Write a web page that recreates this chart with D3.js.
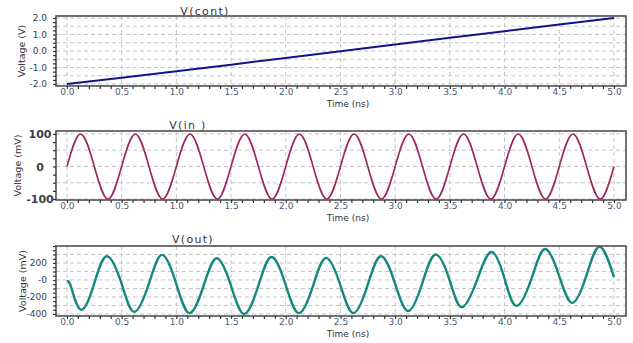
<!DOCTYPE html>
<html><head><meta charset="utf-8">
<script src="https://cdn.jsdelivr.net/npm/d3@7"></script>
<style>
html,body{margin:0;padding:0;background:#fff;}
svg{display:block;font-family:"DejaVu Sans",sans-serif;}
</style></head>
<body><svg id="c" width="633" height="343"></svg>
<script>
// ---------- data ----------
const timeTicks = [0,0.5,1,1.5,2,2.5,3,3.5,4,4.5,5];
const timeLabels = ["0.0","0.5","1.0","1.5","2.0","2.5","3.0","3.5","4.0","4.5","5.0"];

const contTime = [0,0.5,1,1.5,2,2.5,3,3.5,4,4.5,5];
const contVolt = [-2.0,-1.62,-1.22,-0.83,-0.42,-0.02,0.4,0.8,1.2,1.6,2.0];
const contYTicks = [2,1,0,-1,-2];
const contYLabels = ["2.0","1.0","0.0","-1.0","-2.0"];

const inTime = [0,0.125,0.25,0.375,0.5,0.625,0.75,0.875,1,1.125,1.25,1.375,1.5,1.625,1.75,1.875,2,2.125,2.25,2.375,2.5,
  2.625,2.75,2.875,3,3.125,3.25,3.375,3.5,3.625,3.75,3.875,4,4.125,4.25,4.375,4.5,4.625,4.75,4.875,5];
const inVolt = [0,100,0,-100,0,100,0,-100,0,100,0,-100,0,100,0,-100,0,100,0,-100,0,
  100,0,-100,0,100,0,-100,0,100,0,-100,0,100,0,-100,0,100,0,-100,0];
const inYTicks = [100,0,-100];
const inYLabels = ["100","0","-100"];

const outTime = [0,0.04,0.13,0.25,0.365,0.5,0.615,0.75,0.87,1,1.12,1.25,1.37,1.5,1.62,1.75,1.87,2,2.12,2.25,2.37,2.5,
  2.62,2.75,2.87,3,3.12,3.25,3.37,3.5,3.61,3.75,3.88,4,4.11,4.25,4.37,4.5,4.62,4.75,4.87,5];
const outVolt = [-15,-90,-350,-40,280,-45,-375,-40,295,-50,-390,-65,255,-70,-400,-65,270,-60,-390,-65,260,-65,
  -390,-55,280,-45,-365,-30,300,-10,-320,5,330,15,-305,30,365,45,-270,60,392,35];
const outYTicks = [200,0,-200,-400];
const outYLabels = ["200","-0","-200","-400"];

// ---------- layout ----------
const svg = d3.select("#c");
const X0 = 56, X1 = 626;
const x = d3.scaleLinear().domain([-0.1, 5.11]).range([X0, X1]);

const panels = [
  {title:"V(cont)", titleX:205, titleY:15, top:16, bottom:86, dom:[-2.12,2.12],
   grid:d3.range(-2,2.01,0.5), minor:d3.range(-2,2.01,0.25), yt:contYTicks, yl:contYLabels,
   t:contTime, v:contVolt, color:"#14148a", lw:2, ylab:"Voltage (V)", ylx:22, anchor:"end", lx:47,
   curve:d3.curveLinear},
  {title:"V(in )", titleX:188, titleY:129, top:131, bottom:200, dom:[-103,109],
   grid:d3.range(-100,101,50), minor:d3.range(-100,101,25), yt:inYTicks, yl:inYLabels,
   t:inTime, v:inVolt, color:"#9e2462", lw:1.6, ylab:"Voltage (mV)", ylx:18, anchor:"middle", lx:40,
   curve:d3.curveNatural},
  {title:"V(out)", titleX:193, titleY:243, top:246, bottom:316, dom:[-424,400],
   grid:d3.range(-400,301,100), minor:d3.range(-400,401,50), yt:outYTicks, yl:outYLabels,
   t:outTime, v:outVolt, color:"#15877f", lw:2.4, ylab:"Voltage (mV)", ylx:23, anchor:"end", lx:47,
   curve:d3.curveNatural}
];

panels.forEach(p => {
  const y = d3.scaleLinear().domain(p.dom).range([p.bottom, p.top]);
  const g = svg.append("g");
  // plot background
  g.append("rect").attr("x",X0).attr("y",p.top).attr("width",X1-X0).attr("height",p.bottom-p.top).attr("fill","#fff");
  // grid
  g.selectAll(".vg").data(timeTicks).join("line")
    .attr("x1",d=>x(d)).attr("x2",d=>x(d)).attr("y1",p.top).attr("y2",p.bottom)
    .attr("stroke","#c4c4c4").attr("stroke-width",1).attr("stroke-dasharray","4,3");
  g.selectAll(".hg").data(p.grid).join("line")
    .attr("x1",X0).attr("x2",X1).attr("y1",d=>y(d)).attr("y2",d=>y(d))
    .attr("stroke","#c4c4c4").attr("stroke-width",1).attr("stroke-dasharray","4,3");
  // line
  const line = d3.line().x((d,i)=>x(p.t[i])).y(d=>y(d)).curve(p.curve);
  g.append("path").datum(p.v).attr("d",line).attr("fill","none")
    .attr("stroke",p.color).attr("stroke-width",p.lw).attr("stroke-linejoin","round");
  // frame
  g.append("rect").attr("x",X0).attr("y",p.top).attr("width",X1-X0).attr("height",p.bottom-p.top)
    .attr("fill","none").attr("stroke","#505050").attr("stroke-width",1.6);
  // minor x ticks
  const xm = g.append("g").attr("transform",`translate(0,${p.bottom})`)
    .call(d3.axisBottom(x).tickValues(d3.range(0,5.01,0.1)).tickSize(3).tickFormat(""));
  xm.select(".domain").remove();
  xm.selectAll("line").attr("stroke","#333").attr("stroke-width",1.2);
  // x labels
  const xa = g.append("g").attr("transform",`translate(0,${p.bottom})`)
    .call(d3.axisBottom(x).tickValues(timeTicks).tickSize(0).tickPadding(3).tickFormat((d,i)=>timeLabels[i]));
  xa.select(".domain").remove();
  xa.selectAll("text").attr("font-size",9).attr("font-family","DejaVu Sans, sans-serif").attr("fill","#4a5a70");
  // minor y ticks
  const ym = g.append("g").attr("transform",`translate(${X0},0)`)
    .call(d3.axisLeft(y).tickValues(p.minor).tickSize(3).tickFormat(""));
  ym.select(".domain").remove();
  ym.selectAll("line").attr("stroke","#333").attr("stroke-width",1.2);
  // y labels
  const ya = g.append("g").attr("transform",`translate(${X0},0)`)
    .call(d3.axisLeft(y).tickValues(p.yt).tickSize(0).tickFormat((d,i)=>p.yl[i]));
  ya.select(".domain").remove();
  ya.selectAll("text").attr("x",p.lx-X0).attr("text-anchor",p.anchor)
    .attr("font-size",p.anchor==="middle"?11:9).attr("font-weight",p.anchor==="middle"?"bold":"normal")
    .attr("font-family","DejaVu Sans, sans-serif").attr("fill","#3a4050");
  // axis titles
  g.append("text").attr("x",348).attr("y",p.bottom+21).attr("text-anchor","middle")
    .attr("font-size",9).attr("fill","#333").text("Time (ns)");
  g.append("text").attr("transform",`translate(${p.ylx},${(p.top+p.bottom)/2}) rotate(-90)`)
    .attr("text-anchor","middle").attr("dy","0.35em").attr("font-size",9.5).attr("fill","#333").text(p.ylab);
  // panel title
  g.append("text").attr("x",p.titleX).attr("y",p.titleY).attr("text-anchor","middle")
    .attr("font-size",11).attr("letter-spacing",1.3).attr("fill","#333").text(p.title);
});
</script>
</body></html>
